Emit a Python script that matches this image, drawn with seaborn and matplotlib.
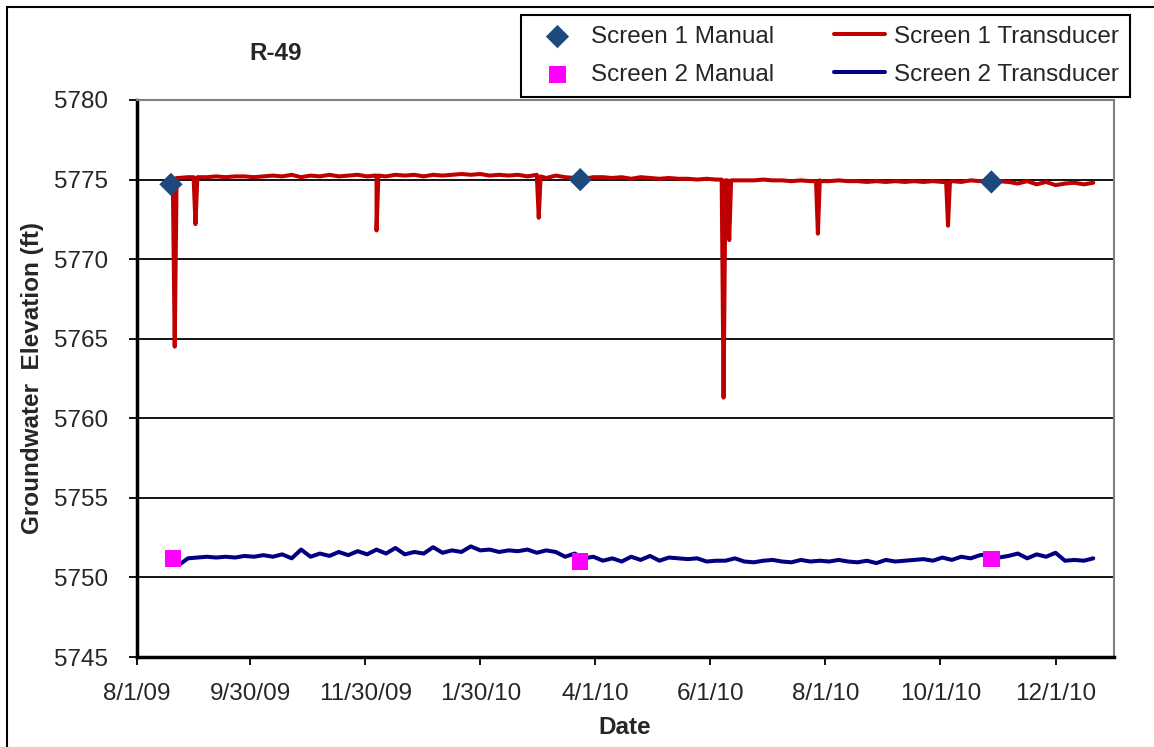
import pandas as pd
import seaborn as sns
import matplotlib.pyplot as plt
from matplotlib.patches import Rectangle

# Screen 1 transducer, one reading every 5 days from 8/23/09
s1_start = '2009-08-23'
s1_values = [5775.1, 5775.15, 5775.15, 5775.15, 5775.2, 5775.15, 5775.2, 5775.2, 5775.15,
             5775.2, 5775.25, 5775.2, 5775.3, 5775.15, 5775.25,
             5775.2, 5775.3, 5775.2, 5775.25, 5775.3, 5775.2,
             5775.25, 5775.2, 5775.3, 5775.25, 5775.3, 5775.2,
             5775.3, 5775.25, 5775.3, 5775.35, 5775.3, 5775.35,
             5775.25, 5775.3, 5775.25, 5775.3, 5775.2, 5775.3,
             5775.1, 5775.25, 5775.15, 5775.1, 5775.05, 5775.15,
             5775.15, 5775.1, 5775.15, 5775.05, 5775.15, 5775.1,
             5775.05, 5775.1, 5775.05, 5775.05, 5775.0, 5775.05,
             5775.0, 5774.95, 5774.95, 5774.95, 5774.95, 5775.0,
             5774.95, 5774.95, 5774.9, 5774.95, 5774.9, 5774.95,
             5774.9, 5774.95, 5774.9, 5774.9, 5774.85, 5774.9, 5774.85,
             5774.9, 5774.85, 5774.9, 5774.85, 5774.9, 5774.85,
             5774.9, 5774.85, 5774.95, 5774.9, 5774.95, 5774.9,
             5774.85, 5774.75, 5774.9, 5774.7, 5774.85, 5774.65,
             5774.75, 5774.8, 5774.7, 5774.8]

# Screen 1 drawdown spikes, with the readings just before and after
s1_spike_dates = ['2009-08-20', '2009-08-21', '2009-08-22',
                  '2009-08-31', '2009-09-01', '2009-09-02',
                  '2009-12-05', '2009-12-06', '2009-12-07',
                  '2010-03-01', '2010-03-02', '2010-03-03',
                  '2010-06-07', '2010-06-08', '2010-06-09', '2010-06-10', '2010-06-11', '2010-06-12',
                  '2010-07-27', '2010-07-28', '2010-07-29',
                  '2010-10-04', '2010-10-05', '2010-10-06']
s1_spike_values = [5774.9, 5764.5, 5775.1,
                   5775.15, 5772.2, 5775.15,
                   5775.25, 5771.8, 5775.25,
                   5775.2, 5772.6, 5775.2,
                   5775.0, 5761.3, 5774.95, 5774.95, 5771.2, 5774.95,
                   5774.9, 5771.6, 5774.9,
                   5774.85, 5772.1, 5774.85]

# Screen 2 transducer, one reading every 5 days from 8/28/09
s2_start = '2009-08-28'
s2_values = [5751.2, 5751.25, 5751.3, 5751.25, 5751.3, 5751.25, 5751.35,
             5751.3, 5751.4, 5751.3, 5751.45, 5751.2, 5751.75,
             5751.3, 5751.5, 5751.35, 5751.6, 5751.4, 5751.65,
             5751.45, 5751.75, 5751.5, 5751.85, 5751.45, 5751.6, 5751.5,
             5751.9, 5751.55, 5751.7, 5751.6, 5751.95, 5751.7,
             5751.75, 5751.6, 5751.7, 5751.65, 5751.75,
             5751.55, 5751.7, 5751.6, 5751.3, 5751.5, 5751.2, 5751.3,
             5751.05, 5751.2, 5751.0, 5751.3, 5751.1, 5751.35,
             5751.05, 5751.25, 5751.2, 5751.15, 5751.2, 5751.0,
             5751.05, 5751.05, 5751.2, 5751.0, 5750.95, 5751.05,
             5751.1, 5751.0, 5750.95, 5751.1, 5751.0, 5751.05,
             5751.0, 5751.1, 5751.0, 5750.95, 5751.05, 5750.9,
             5751.1, 5751.0, 5751.05, 5751.1, 5751.15, 5751.05,
             5751.25, 5751.1, 5751.3, 5751.2, 5751.4, 5751.45,
             5751.25, 5751.35, 5751.5, 5751.2, 5751.45, 5751.3,
             5751.55, 5751.05, 5751.1, 5751.05, 5751.2]
s2_extra_dates = ['2009-08-24']
s2_extra_values = [5750.85]

# manual measurements
s1_manual_dates = ['2009-08-19', '2010-03-24', '2010-10-28']
s1_manual_values = [5774.7, 5775.0, 5774.85]
s2_manual_dates = ['2009-08-20', '2010-03-24', '2010-10-28']
s2_manual_values = [5751.2, 5751.0, 5751.15]

tick_dates = ['2009-08-01', '2009-09-30', '2009-11-30', '2010-01-30', '2010-04-01',
              '2010-06-01', '2010-08-01', '2010-10-01', '2010-12-01']
tick_labels = ['8/1/09', '9/30/09', '11/30/09', '1/30/10', '4/1/10',
               '6/1/10', '8/1/10', '10/1/10', '12/1/10']
y_ticks = [5745, 5750, 5755, 5760, 5765, 5770, 5775, 5780]


def build(start, values, extra_dates, extra_values):
    df = pd.DataFrame({'date': pd.date_range(start, periods=len(values), freq='5D'),
                       'elev': values})
    ext = pd.DataFrame({'date': pd.to_datetime(extra_dates), 'elev': extra_values})
    return pd.concat([df, ext]).sort_values('date', kind='stable').reset_index(drop=True)


s1 = build(s1_start, s1_values, s1_spike_dates, s1_spike_values)
s2 = build(s2_start, s2_values, s2_extra_dates, s2_extra_values)
m1 = pd.DataFrame({'date': pd.to_datetime(s1_manual_dates), 'elev': s1_manual_values})
m2 = pd.DataFrame({'date': pd.to_datetime(s2_manual_dates), 'elev': s2_manual_values})

sns.set_style('white')
plt.rcParams['font.family'] = ['Liberation Sans', 'DejaVu Sans']
fs = 17.5

fig = plt.figure(figsize=(11.54, 7.47), dpi=100)
ax = fig.add_axes([137 / 1154, 90 / 747, 977 / 1154, 557 / 747])

sns.lineplot(data=s1, x='date', y='elev', ax=ax, color='#C00000', lw=2.9,
             estimator=None, sort=False, label='Screen 1 Transducer', zorder=3)
sns.lineplot(data=s2, x='date', y='elev', ax=ax, color='#000080', lw=2.9,
             estimator=None, sort=False, label='Screen 2 Transducer', zorder=3)
sns.scatterplot(data=m1, x='date', y='elev', ax=ax, marker='D', s=140, color='#1F497D',
                edgecolor='none', label='Screen 1 Manual', zorder=5)
sns.scatterplot(data=m2, x='date', y='elev', ax=ax, marker='s', s=140, color='#FF00FF',
                edgecolor='none', label='Screen 2 Manual', zorder=5)

handles, labels = ax.get_legend_handles_labels()
ax.get_legend().remove()
order = [labels.index(n) for n in ['Screen 1 Manual', 'Screen 2 Manual',
                                   'Screen 1 Transducer', 'Screen 2 Transducer']]
leg = fig.legend([handles[i] for i in order], [labels[i] for i in order], ncol=2,
                 loc='upper left', bbox_to_anchor=(521 / 1154, 1 - 15 / 747),
                 fontsize=fs, handlelength=2.1, handletextpad=0.35, columnspacing=2.45,
                 borderpad=0.45, labelspacing=0.65, borderaxespad=0, fancybox=False,
                 framealpha=1, edgecolor='black')
leg.get_frame().set_linewidth(1.5)

ax.set_xlim(pd.Timestamp('2009-08-01'), pd.Timestamp('2011-01-01'))
ax.set_ylim(5745, 5780)
ax.set_yticks(y_ticks)
ax.set_yticklabels([str(v) for v in y_ticks], fontsize=fs)
ax.set_xticks(pd.to_datetime(tick_dates))
ax.set_xticklabels(tick_labels, fontsize=fs)
ax.set_xlabel('')
ax.set_ylabel('')

for v in y_ticks[1:-1]:
    ax.axhline(v, color='black', lw=1.3, zorder=1)
ax.tick_params(axis='both', direction='out', length=6, width=1.3, color='black',
               left=True, bottom=True)
ax.tick_params(axis='y', pad=15)
ax.tick_params(axis='x', pad=13)
for side in ['top', 'right']:
    ax.spines[side].set_color('#808080')
    ax.spines[side].set_linewidth(1.5)
for side in ['left', 'bottom']:
    ax.spines[side].set_color('black')
    ax.spines[side].set_linewidth(2.5)

fig.text(276 / 1154, 1 - 53 / 747, 'R-49', ha='center', va='center',
         fontsize=fs, fontweight='bold')
fig.text(33 / 1154, 1 - 378 / 747, 'Groundwater  Elevation (ft)', ha='center',
         va='center', rotation=90, fontsize=fs, fontweight='bold')
fig.text(625 / 1154, 1 - 728 / 747, 'Date', ha='center', va='center',
         fontsize=fs, fontweight='bold')

# chart area border
fig.patches.append(Rectangle((7 / 1154, -0.1), 1.2, 1.1 - 7 / 747, transform=fig.transFigure,
                             fill=False, edgecolor='black', lw=1.5))

fig.savefig('out.png', dpi=100)
